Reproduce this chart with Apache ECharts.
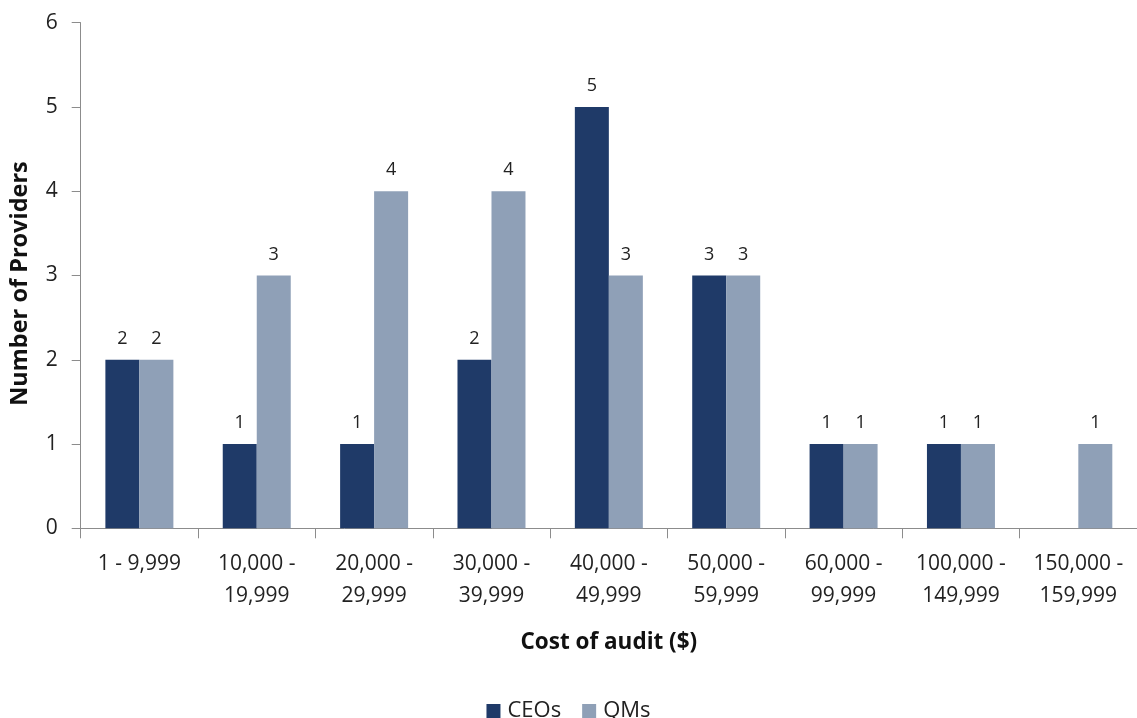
<!DOCTYPE html>
<html><head><meta charset="utf-8">
<script src="https://cdn.jsdelivr.net/npm/echarts@6/dist/echarts.min.js"></script>
<style>html,body{margin:0;padding:0;background:#fff}#c{width:1137px;height:718px}</style>
</head><body><div id="c"></div>
<script>
var categories = ["1 - 9,999", "10,000 -\n19,999", "20,000 -\n29,999", "30,000 -\n39,999", "40,000 -\n49,999", "50,000 -\n59,999", "60,000 -\n99,999", "100,000 -\n149,999", "150,000 -\n159,999"];
var ceos = [2, 1, 1, 2, 5, 3, 1, 1, null];
var qms = [2, 3, 4, 4, 3, 3, 1, 1, 1];
var yTicks = [0, 1, 2, 3, 4, 5, 6];
var FONT = "'Open Sans', 'Noto Sans', sans-serif";
var chart = echarts.init(document.getElementById('c'));
var labelCfg = {show: true, position: 'top', distance: 12, color: '#222', fontSize: 18, fontFamily: FONT};
chart.setOption({
  animation: false,
  textStyle: {fontFamily: FONT},
  grid: {left: 80.7, top: 22.7, width: 1064, bottom: 189.7},
  legend: {
    bottom: -9, left: 'center', itemWidth: 14, itemHeight: 14, itemGap: 21, icon: 'rect',
    textStyle: {fontSize: 22, color: '#222', fontFamily: FONT, padding: [0, 0, 0, 2]},
    data: ['CEOs', 'QMs']
  },
  xAxis: {
    type: 'category', data: categories,
    name: 'Cost of audit ($)', nameLocation: 'middle', nameGap: 103,
    nameTextStyle: {fontSize: 22.5, fontWeight: 'bold', color: '#111', fontFamily: FONT},
    axisLine: {lineStyle: {color: '#8c8c8c', width: 1}},
    axisTick: {show: true, length: 10, lineStyle: {color: '#8c8c8c'}},
    axisLabel: {fontSize: 21, color: '#222', lineHeight: 32, margin: 20, interval: 0, fontFamily: FONT}
  },
  yAxis: {
    type: 'value', min: yTicks[0], max: yTicks[yTicks.length - 1], interval: 1,
    name: 'Number of Providers', nameLocation: 'middle', nameGap: 48, nameRotate: 90,
    nameTextStyle: {fontSize: 23.5, fontWeight: 'bold', color: '#111', fontFamily: FONT, padding: [0, 16, 0, 0]},
    axisLine: {show: true, lineStyle: {color: '#8c8c8c', width: 1}},
    axisTick: {show: true, length: 9, lineStyle: {color: '#8c8c8c'}},
    splitLine: {show: false},
    axisLabel: {fontSize: 21, color: '#222', margin: 23, fontFamily: FONT}
  },
  series: [
    {name: 'CEOs', type: 'bar', data: ceos, barWidth: 34, barGap: '0%', itemStyle: {color: '#1f3a68'}, label: labelCfg},
    {name: 'QMs', type: 'bar', data: qms, barWidth: 34, barGap: '0%', itemStyle: {color: '#8fa0b7'}, label: labelCfg}
  ]
});
</script></body></html>
